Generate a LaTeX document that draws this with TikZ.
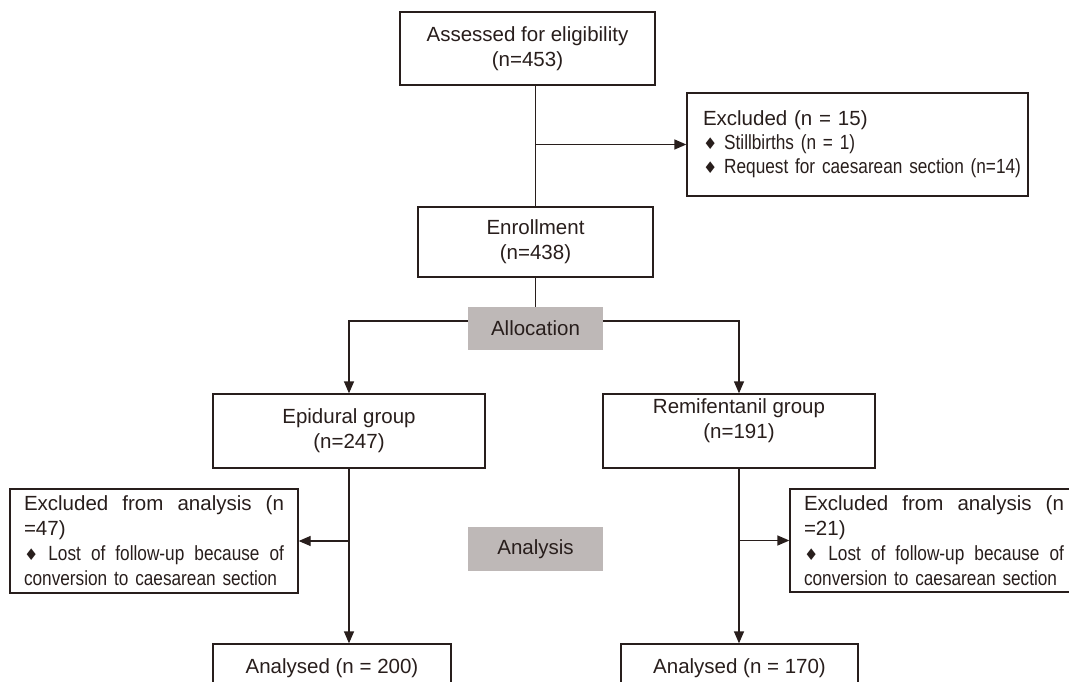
\documentclass[tikz,border=0pt]{standalone}
\usepackage{fontspec}
\setmainfont{Liberation Sans}
\newfontfamily\narrowfont[FakeStretch=0.84]{Liberation Sans}
\newfontfamily\dmdfont{DejaVu Sans}
\newcommand{\dmd}{{\dmdfont\fontsize{16}{20}\selectfont ♦}}
\usetikzlibrary{arrows.meta}
\definecolor{lc}{RGB}{40,30,28}
\definecolor{gbox}{RGB}{190,184,183}
\begin{document}
\begin{tikzpicture}[x=1pt,y=-1pt,
  box/.style={draw=lc,line width=1.3pt,fill=white,text=lc,inner sep=0pt,align=center,
    font=\fontsize{20.5}{25}\selectfont},
  listbox/.style={box,align=left,inner ysep=0pt},
  graybox/.style={fill=gbox,text=lc,inner sep=0pt,font=\fontsize{20.5}{25}\selectfont},
  conn/.style={draw=lc,line width=1.3pt},
  arr/.style={conn,-{Triangle[length=12pt,width=10pt]}}]
\useasboundingbox (0,0) rectangle (1069,682);
\clip (0,0) rectangle (1069,682);
\fill[white] (0,0) rectangle (1069,682);

\node[box,minimum width=255,minimum height=73] (assess) at (527.5,48.5)
  {Assessed for eligibility\\(n=453)};
\node[listbox,text width=309pt,inner xsep=16pt,minimum height=103,
  font=\fontsize{20.5}{24}\selectfont] (excl) at (857.5,144.5)
  {Excluded (n = 15)\\
   \narrowfont\mbox{\dmd\ Stillbirths (n = 1)}\\
   \mbox{\dmd\ Request for caesarean section (n=14)}};
\node[box,minimum width=235,minimum height=70] (enroll) at (535.5,242)
  {Enrollment\\(n=438)};
\node[graybox,minimum width=135,minimum height=43] (alloc) at (535.5,328.5) {Allocation};
\node[box,minimum width=272,minimum height=74] (epi) at (349,431)
  {Epidural group\\(n=247)};
\node[box,minimum width=272,minimum height=74,text depth=25pt] (remi) at (739,431)
  {Remifentanil group\\(n=191)};
\node[listbox,text width=260pt,inner xsep=14pt,minimum height=104] (exL) at (154,541)
  {Excluded\hfill from\hfill analysis\hfill (n\\
   =47)\\
   \narrowfont \dmd\hfill Lost\hfill of\hfill follow-up\hfill because\hfill of\\
   conversion to caesarean section};
\node[listbox,text width=260pt,inner xsep=14pt,minimum height=103] (exR) at (934,540.5)
  {Excluded\hfill from\hfill analysis\hfill (n\\
   =21)\\
   \narrowfont \dmd\hfill Lost\hfill of\hfill follow-up\hfill because\hfill of\\
   conversion to caesarean section};
\node[graybox,minimum width=135,minimum height=44] (analysis) at (535.5,549) {Analysis};
\node[box,minimum width=238,minimum height=48] (anL) at (332,668) {Analysed (n = 200)};
\node[box,minimum width=237,minimum height=48] (anR) at (739.5,668) {Analysed (n = 170)};

\draw[conn] (enroll.north |- assess.south) -- (enroll.north);
\draw[arr] (enroll.north |- excl.west) -- (excl.west);
\draw[conn] (enroll.south) -- (alloc.north);
\draw[arr] ([yshift=7.5pt]alloc.west) -| (epi.north);
\draw[arr] ([yshift=7.5pt]alloc.east) -| (remi.north);
\draw[arr] (epi.south) -- (epi.south |- anL.north);
\draw[arr] (epi.south |- exL.east) -- (exL.east);
\draw[arr] (remi.south) -- (remi.south |- anR.north);
\draw[arr] (remi.south |- exR.west) -- (exR.west);
\end{tikzpicture}
\end{document}
